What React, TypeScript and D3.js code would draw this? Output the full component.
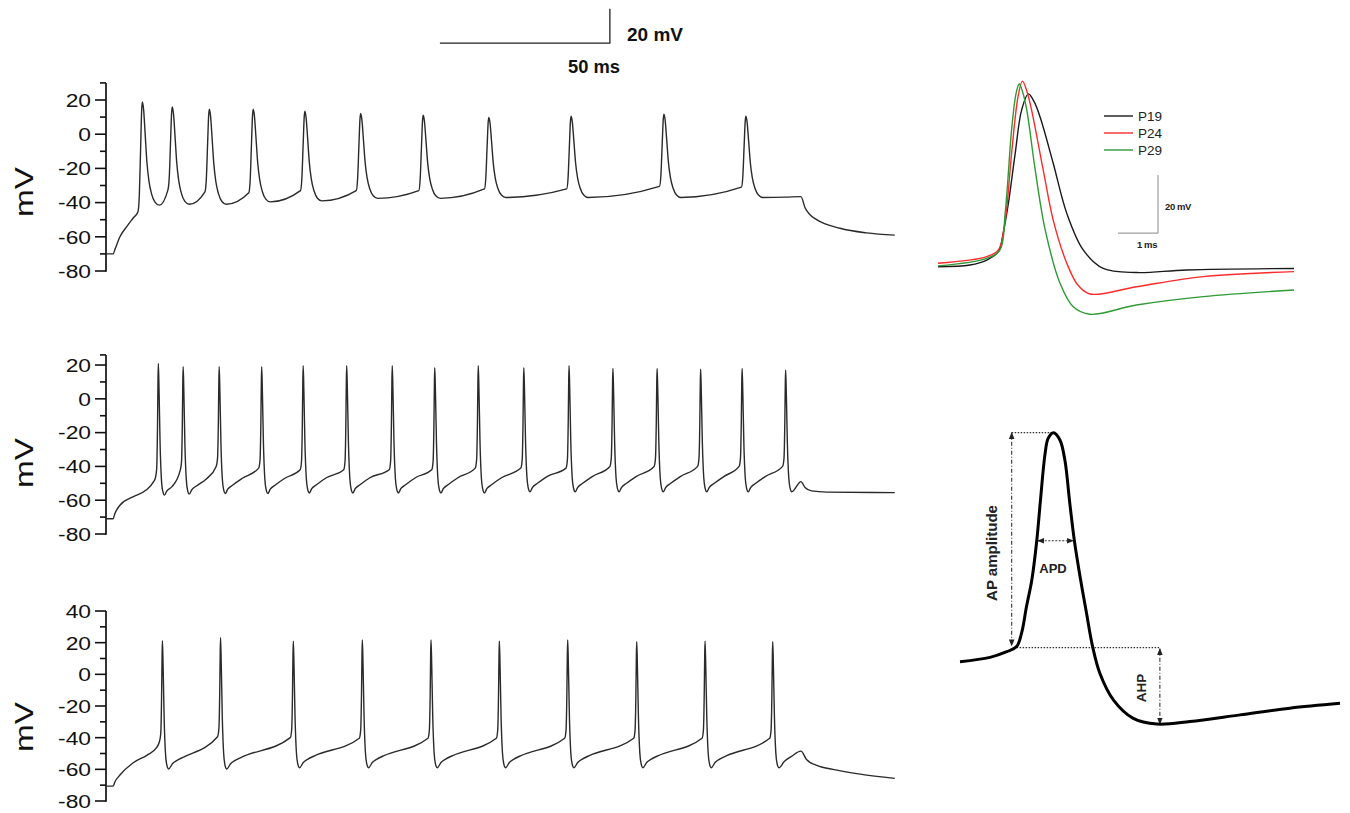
import React from 'react';
import * as d3 from 'd3';

type Pt = [number, number];

// ---------- Spike trains (time in ms, voltage in mV) ----------
const TIME_DOMAIN: [number, number] = [0, 232];

const p1Start: Pt[] = [[0, -70], [2.1, -70], [2.7, -67], [4.1, -60], [6.1, -54], [8.0, -49]];
const p1SpikeTimes = [10.7, 19.5, 30.4, 43.3, 58.5, 74.9, 93.3, 112.6, 136.8, 164.1, 188.2];
const p1Peaks = [18.9, 16, 14.6, 14.6, 13.4, 12.1, 11.1, 9.8, 10.5, 11.7, 10.5];
const p1Troughs = [-41.5, -41, -41, -39.6, -39, -37.5, -37.5, -37, -37, -37, -37];
const p1Thresholds = [-45.4, -32.7, -33.7, -34.3, -33, -33, -33, -32, -32, -30.5, -31];
const p1Tail: Pt[] = [[200, -36.8], [204.4, -36.5], [205.6, -43], [207, -47], [209, -50], [215.9, -55], [223.7, -57.7], [232, -59]];

const p2Start: Pt[] = [[0, -71], [2.1, -71], [2.6, -68], [4.1, -63], [7.9, -58], [11.8, -54], [14.0, -49]];
const p2SpikeTimes = [15.4, 22.7, 33.3, 45.8, 58.0, 70.8, 84.2, 96.7, 109.5, 122.9, 136.2, 149.1, 162.1, 174.9, 187.1, 199.9];
const p2Peaks = [20.9, 19, 19, 19, 19.6, 19.6, 19.6, 18.4, 19.6, 18.4, 19.6, 18, 18, 17.5, 18, 17];
const p2Troughs = [-57, -56.4, -56, -56, -55.7, -55.7, -55.7, -55.7, -55.7, -55, -55, -55, -55, -55, -55, -55];
const p2Thresholds = [-47, -42.5, -40, -41, -42, -42, -42, -42, -41, -41, -41, -40, -40, -40, -40, -40];
const p2Tail: Pt[] = [[204.4, -49], [205.6, -52.5], [207.5, -54.5], [212, -55.2], [232, -55.5]];

const p3Start: Pt[] = [[0, -70.6], [2.1, -70.6], [2.6, -68], [4.1, -63.6], [7.9, -56], [12.1, -51], [14.8, -46.5]];
const p3SpikeTimes = [16.6, 33.7, 55.1, 75.4, 95.6, 115.7, 135.8, 156.1, 176.2, 196.1];
const p3Peaks = [21.2, 23.1, 21, 21.7, 21.7, 21, 21.7, 20.6, 21, 20.6];
const p3Troughs = [-59.8, -59.8, -59, -59, -59, -59, -59, -59, -59, -59];
const p3Thresholds = [-42.6, -39.4, -40, -40.4, -40.4, -40.4, -40.4, -40.4, -40.4, -40.4];
const p3Tail: Pt[] = [[199.5, -55], [201.5, -52], [204.4, -48.5], [206.1, -54], [209, -57.5], [213.8, -60], [221.8, -63], [232, -65.7]];

// ---------- Overlaid APs (time in ms, mV) ----------
const p19T = [0, 0.8, 1.22, 1.51, 1.63, 1.76, 1.93, 2.09, 2.26, 2.4, 2.55, 2.88, 3.22, 3.63, 4.13, 4.96, 6.22, 8.9];
const p19V = [-60.6, -60, -58.3, -55.4, -49, -38.7, -21.5, -6.6, -1.0, -3.6, -8.9, -24.9, -42.2, -54.8, -61.2, -62.6, -61.7, -61.2];
const p24T = [0, 1.22, 1.51, 1.68, 1.84, 2.0, 2.11, 2.22, 2.34, 2.63, 2.88, 3.22, 3.5, 3.8, 4.96, 6.63, 8.9];
const p24V = [-59.4, -57.1, -54.8, -44.5, -21.5, -2, 3.4, 0, -6.6, -27.2, -44.5, -59.4, -67, -70, -67.5, -64, -62.3];
const p29T = [0, 1.22, 1.55, 1.68, 1.84, 1.95, 2.03, 2.12, 2.22, 2.43, 2.68, 3.05, 3.38, 3.8, 4.96, 6.63, 8.9];
const p29V = [-60.3, -57.7, -54.8, -42, -13.4, -1, 2.4, -0.5, -6.6, -27.2, -47.9, -66.3, -74.4, -77, -73.8, -70.9, -68.6];
const legendLabels = ['P19', 'P24', 'P29'];
const legendColors = ['#1a1a1a', '#ff2a2a', '#2e9a35'];

// ---------- Schematic AP ----------
const schT = [0, 0.79, 1.23, 1.49, 1.62, 1.75, 1.89, 2.02, 2.11, 2.24, 2.32, 2.46, 2.63, 2.76, 2.89, 3.01, 3.16, 3.33, 3.49, 3.68, 4.04, 4.56, 5.18, 6.05, 7.37, 8.68, 10];
const schV = [-55.2, -53.6, -51.5, -49.6, -44.6, -34.7, -24.8, -10.2, 3.7, 22.3, 27.9, 30, 27.3, 19.8, 3.7, -10.2, -23.6, -37.2, -49.6, -59.5, -69.5, -76.3, -78.4, -77.5, -75, -72.5, -70.7];
const schThreshold = -50;
const schPeak = 30;
const schAhpMin = -78.4;
const schApdLevel = -10.2;
const schApdStart = 2.02;
const schApdEnd = 3.01;
const schAmpT = 1.36;
const schAhpT = 5.26;

type Tpl = { rise: number[][]; fall: number[][]; rec: number[][] };
const broadTpl: Tpl = {
  rise: [[-1.3, 0], [-0.9, 0.15], [-0.5, 0.6], [-0.2, 0.93]],
  fall: [[0.35, 0.07], [0.8, 0.3], [1.3, 0.57], [1.9, 0.76], [2.7, 0.89], [3.7, 0.97], [5.0, 1.0]],
  rec: [],
};
const narrowTpl2: Tpl = {
  rise: [[-0.9, 0], [-0.5, 0.08], [-0.25, 0.45], [-0.1, 0.88]],
  fall: [[0.2, 0.2], [0.5, 0.6], [0.9, 0.88], [1.3, 0.97], [1.8, 1.0]],
  rec: [[2.5, 2.5], [4.0, 5], [6.8, 9]],
};
const narrowTpl3: Tpl = {
  rise: [[-0.9, 0], [-0.5, 0.08], [-0.25, 0.45], [-0.1, 0.88]],
  fall: [[0.2, 0.2], [0.5, 0.6], [0.9, 0.88], [1.3, 0.97], [1.8, 1.0]],
  rec: [[3.0, 3.5], [4.3, 5.5], [6.2, 7.5]],
};

function buildTrace(start: Pt[], times: number[], peaks: number[], troughs: number[], thr: number[], tail: Pt[], tpl: Tpl): Pt[] {
  const pts: Pt[] = [...start];
  times.forEach((tp, i) => {
    const pk = peaks[i], th = thr[i], tr = troughs[i];
    tpl.rise.forEach(([dt, f]) => pts.push([tp + dt, th + f * (pk - th)]));
    pts.push([tp, pk]);
    tpl.fall.forEach(([dt, f]) => pts.push([tp + dt, pk - f * (pk - tr)]));
    if (i < times.length - 1) {
      const nextStart = times[i + 1] + tpl.rise[0][0];
      tpl.rec.forEach(([dt, dv]) => {
        if (tp + dt < nextStart - 0.6) pts.push([tp + dt, tr + dv]);
      });
    }
  });
  pts.push(...tail);
  return pts;
}

const trace1 = buildTrace(p1Start, p1SpikeTimes, p1Peaks, p1Troughs, p1Thresholds, p1Tail, broadTpl);
const trace2 = buildTrace(p2Start, p2SpikeTimes, p2Peaks, p2Troughs, p2Thresholds, p2Tail, narrowTpl2);
const trace3 = buildTrace(p3Start, p3SpikeTimes, p3Peaks, p3Troughs, p3Thresholds, p3Tail, narrowTpl3);

const AXIS_X = 106;
const xTrain = d3.scaleLinear().domain(TIME_DOMAIN).range([106, 894.8]);

const PANELS = [
  { domain: [-80, 30], range: [271, 82.9], pts: trace1, labelY: 192 },
  { domain: [-80, 26], range: [534, 354.9], pts: trace2, labelY: 463 },
  { domain: [-80, 40], range: [801, 611], pts: trace3, labelY: 727 },
];

const FONT = 'Liberation Sans, Arial, Helvetica, sans-serif';

function Panel({ p }: { p: typeof PANELS[number] }) {
  const y = d3.scaleLinear().domain(p.domain).range(p.range);
  const top = p.domain[1];
  const ticks = d3.range(-80, top + 0.001, 10);
  const line = d3.line<Pt>().x(d => xTrain(d[0])).y(d => y(d[1])).curve(d3.curveMonotoneX);
  return (
    <g>
      <line x1={AXIS_X} x2={AXIS_X} y1={y(-80) + 0.8} y2={y(top)} stroke="#111" strokeWidth={1.7} />
      {top % 10 !== 0 && (
        <line x1={AXIS_X - 6} x2={AXIS_X} y1={y(top)} y2={y(top)} stroke="#111" strokeWidth={1.6} />
      )}
      {ticks.map(v => {
        const major = v % 20 === 0;
        return (
          <g key={v}>
            <line x1={AXIS_X - (major ? 11 : 6)} x2={AXIS_X} y1={y(v)} y2={y(v)} stroke="#111" strokeWidth={1.6} />
            {major && (
              <text transform={`translate(${91},${y(v)}) scale(1.2,1)`} textAnchor="end" dy="0.36em"
                fontFamily={FONT} fontSize={19} fill="#111">{v}</text>
            )}
          </g>
        );
      })}
      <text transform={`translate(33,${p.labelY}) rotate(-90)`} textAnchor="middle" fontFamily={FONT}
        fontSize={26} fill="#111" textLength={50} lengthAdjust="spacingAndGlyphs">mV</text>
      <path d={line(p.pts) || ''} fill="none" stroke="#2a2a2a" strokeWidth={1.4} strokeLinejoin="round" />
    </g>
  );
}

function Overlay() {
  const x = d3.scaleLinear().domain([0, 8.9]).range([938, 1294]);
  const y = d3.scaleLinear().domain([-80, 5]).range([323, 76.5]);
  const line = d3.line<Pt>().x(d => x(d[0])).y(d => y(d[1])).curve(d3.curveCatmullRom.alpha(0.5));
  const series: Pt[][] = [
    p19T.map((t, i) => [t, p19V[i]] as Pt),
    p24T.map((t, i) => [t, p24V[i]] as Pt),
    p29T.map((t, i) => [t, p29V[i]] as Pt),
  ];
  return (
    <g>
      {series.map((s, i) => (
        <path key={i} d={line(s) || ''} fill="none" stroke={legendColors[i]} strokeWidth={1.4} />
      ))}
      {legendLabels.map((lab, i) => (
        <g key={lab}>
          <line x1={1104} x2={1133} y1={116 + i * 17} y2={116 + i * 17} stroke={legendColors[i]} strokeWidth={1.4} />
          <text x={1138} y={116 + i * 17} dy="0.36em" fontFamily={FONT} fontSize={13.5} fill="#222">{lab}</text>
        </g>
      ))}
      {/* scale bar */}
      <path d={`M${x(4.5)},${y(-49)}H${x(5.5)}V${y(-29)}`} fill="none" stroke="#888" strokeWidth={1} />
      <text x={1165} y={207} dy="0.35em" fontFamily={FONT} fontSize={9.5} fontWeight="bold" letterSpacing={-0.4} fill="#222">20 mV</text>
      <text x={1137} y={245} dy="0.35em" fontFamily={FONT} fontSize={9.5} fontWeight="bold" letterSpacing={-0.4} fill="#222">1 ms</text>
    </g>
  );
}

function Schematic() {
  const x = d3.scaleLinear().domain([0, 10]).range([960, 1340]);
  const y = d3.scaleLinear().domain([-80, 30]).range([728.3, 432.7]);
  const line = d3.line<Pt>().x(d => x(d[0])).y(d => y(d[1])).curve(d3.curveCatmullRom.alpha(0.5));
  const pts: Pt[] = schT.map((t, i) => [t, schV[i]] as Pt);
  const peakT = schT[schV.indexOf(schPeak)];
  const thrT = schT[schV.indexOf(-49.6)];
  return (
    <g>
      <defs>
        <marker id="ah" viewBox="0 0 10 10" refX="9" refY="5" markerWidth="7" markerHeight="7"
          markerUnits="userSpaceOnUse" orient="auto-start-reverse">
          <path d="M0,1 L10,5 L0,9 z" fill="#222" />
        </marker>
      </defs>
      <line x1={x(schAmpT)} x2={x(peakT)} y1={y(schPeak)} y2={y(schPeak)} stroke="#333" strokeWidth={1.2} strokeDasharray="1.5,1.5" />
      <line x1={x(thrT)} x2={x(schAhpT)} y1={y(schThreshold)} y2={y(schThreshold)} stroke="#333" strokeWidth={1.2} strokeDasharray="1.5,1.5" />
      <line x1={x(schAmpT)} x2={x(schAmpT)} y1={y(schPeak)} y2={y(schThreshold) - 2} stroke="#333" strokeWidth={1.1}
        strokeDasharray="4,2,1,2" markerStart="url(#ah)" markerEnd="url(#ah)" />
      <line x1={x(schAhpT)} x2={x(schAhpT)} y1={y(schThreshold) + 1} y2={y(schAhpMin)} stroke="#333" strokeWidth={1.1}
        strokeDasharray="4,2,1,2" markerStart="url(#ah)" markerEnd="url(#ah)" />
      <line x1={x(schApdStart) + 1} x2={x(schApdEnd) - 1} y1={y(schApdLevel)} y2={y(schApdLevel)} stroke="#333" strokeWidth={1.1}
        strokeDasharray="2,1.5" markerStart="url(#ah)" markerEnd="url(#ah)" />
      <path d={line(pts) || ''} fill="none" stroke="#000" strokeWidth={3} strokeLinejoin="round" />
      <text transform="translate(997,553) rotate(-90)" textAnchor="middle" fontFamily={FONT} fontSize={14} fontWeight="bold"
        fill="#222" textLength={96} lengthAdjust="spacingAndGlyphs">AP amplitude</text>
      <text x={1053} y={568} dy="0.36em" textAnchor="middle" fontFamily={FONT} fontSize={13} fontWeight="bold" fill="#222">APD</text>
      <text transform="translate(1146,688) rotate(-90)" textAnchor="middle" fontFamily={FONT} fontSize={13.5} fontWeight="bold" fill="#222">AHP</text>
    </g>
  );
}

function TopScaleBar() {
  const y1 = d3.scaleLinear().domain(PANELS[0].domain).range(PANELS[0].range);
  const t0 = 98.2, t1 = 148.2;
  const v0 = 53.3, v1 = 73.3;
  return (
    <g>
      <path d={`M${xTrain(t0)},${y1(v0)}H${xTrain(t1)}V${y1(v1)}`} fill="none" stroke="#222" strokeWidth={1.3} />
      <text x={627} y={41} fontFamily={FONT} fontSize={18} fontWeight="bold" fill="#111" textLength={56} lengthAdjust="spacingAndGlyphs">20 mV</text>
      <text x={568} y={73} fontFamily={FONT} fontSize={18} fontWeight="bold" fill="#111" textLength={52} lengthAdjust="spacingAndGlyphs">50 ms</text>
    </g>
  );
}

export default function App() {
  return (
    <svg width={1350} height={813} style={{ position: 'absolute', left: 0, top: 0, background: '#fff' }}>
      <rect x={0} y={0} width={1350} height={813} fill="#fff" />
      <TopScaleBar />
      {PANELS.map((p, i) => <Panel key={i} p={p} />)}
      <Overlay />
      <Schematic />
    </svg>
  );
}
